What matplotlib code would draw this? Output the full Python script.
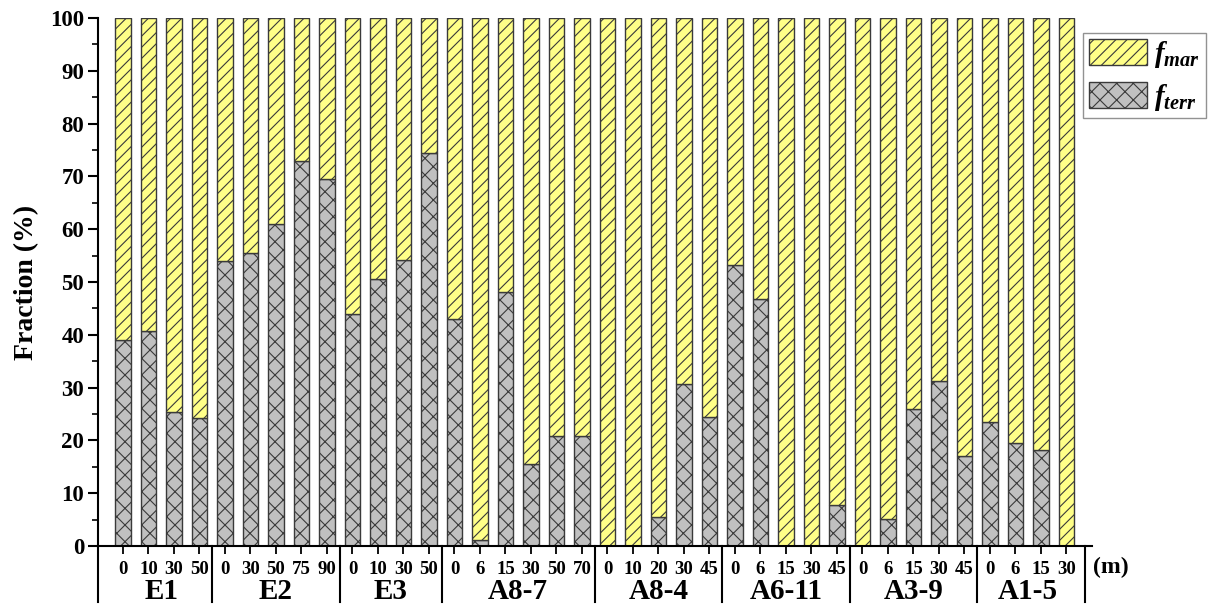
import matplotlib
matplotlib.use("Agg")
import matplotlib.pyplot as plt
from matplotlib.lines import Line2D
import matplotlib.transforms as mtransforms
import numpy as np

# ---------------- data ----------------
groups = ["E1", "E2", "E3", "A8-7", "A8-4", "A6-11", "A3-9", "A1-5"]
depths = [
    ["0", "10", "30", "50"],
    ["0", "30", "50", "75", "90"],
    ["0", "10", "30", "50"],
    ["0", "6", "15", "30", "50", "70"],
    ["0", "10", "20", "30", "45"],
    ["0", "6", "15", "30", "45"],
    ["0", "6", "15", "30", "45"],
    ["0", "6", "15", "30"],
]
f_terr = [
    [39.0, 40.7, 25.4, 24.2],
    [54.0, 55.5, 61.0, 73.0, 69.6],
    [44.0, 50.5, 54.2, 74.5],
    [43.0, 1.2, 48.2, 15.6, 20.8, 20.8],
    [0.0, 0.0, 5.5, 30.7, 24.5],
    [53.3, 46.8, 0.0, 0.0, 7.8],
    [0.0, 5.2, 26.0, 31.2, 17.0],
    [23.4, 19.5, 18.2, 0.0],
]
y_label = "Fraction (%)"
unit_label = "(m)"
legend_labels = [r"$f_{mar}$", r"$f_{terr}$"]

# ---------------- style ----------------
plt.rcParams["font.family"] = ["Liberation Serif", "DejaVu Serif"]
plt.rcParams["font.weight"] = "bold"
plt.rcParams["mathtext.fontset"] = "custom"
plt.rcParams["mathtext.it"] = "Liberation Serif:italic:bold"
plt.rcParams["mathtext.rm"] = "Liberation Serif:bold"
plt.rcParams["hatch.linewidth"] = 0.8

yellow = "#FFFF88"
gray = "#C0C0C0"
edge = "#3a3a3a"

terr = np.concatenate([np.array(v, dtype=float) for v in f_terr])
mar = 100.0 - terr
labels = [d for g in depths for d in g]
x = np.arange(len(terr))

fig = plt.figure(figsize=(12.13, 6.07), dpi=100)
ax = fig.add_axes([0.0808, 0.1005, 0.8194, 0.8698])

b_terr = ax.bar(x, terr, width=0.6, color=gray, edgecolor=edge, hatch="xx", linewidth=1.0)
b_mar = ax.bar(x, mar, bottom=terr, width=0.6, color=yellow, edgecolor=edge, hatch="///", linewidth=1.0)

xl, xr = -0.98, 38.0
ax.set_xlim(xl, xr)
ax.set_ylim(0, 100)

ax.spines["top"].set_visible(False)
ax.spines["right"].set_visible(False)
for s in ("left", "bottom"):
    ax.spines[s].set_linewidth(1.5)

ax.set_yticks(np.arange(0, 101, 10))
ax.set_yticks(np.arange(5, 100, 10), minor=True)
ax.tick_params(axis="y", which="major", direction="out", length=7, width=1.5, labelsize=16.5, pad=3)
ax.tick_params(axis="y", which="minor", direction="out", length=4, width=1.2)

ax.set_xticks(x)
ax.set_xticklabels(labels, fontsize=13.5, fontweight="bold")
ax.tick_params(axis="x", direction="out", length=6, width=1.3, pad=5)

ax.set_ylabel(y_label, fontsize=20, fontweight="bold", labelpad=8)

trans = mtransforms.blended_transform_factory(ax.transData, ax.transAxes)

# group separators and group labels
sep_bottom = -0.107
start = 0
bounds = [xl]
for g, d in zip(groups, depths):
    n = len(d)
    center = start + (n - 1) / 2.0
    ax.text(center, -0.087, g, transform=trans, ha="center", va="center",
            fontsize=21, fontweight="bold")
    start += n
    bounds.append(start - 0.5 if start < len(terr) else 37.74)
for bx in bounds:
    ax.add_line(Line2D([bx, bx], [0, sep_bottom], transform=trans, color="black",
                       linewidth=1.5, clip_on=False))

ax.text(xr + 0.05, -0.04, unit_label, transform=trans, ha="left", va="center",
        fontsize=17, fontweight="bold")

leg = fig.legend([b_mar, b_terr], legend_labels, loc="upper left",
                 bbox_to_anchor=(1083 / 1213, 1 - 33 / 607), fontsize=21,
                 frameon=True, fancybox=False, edgecolor="#777777",
                 handlelength=2.0, handleheight=1.0, handletextpad=0.25,
                 labelspacing=0.4, borderpad=0.2, borderaxespad=0.0)
leg.get_frame().set_linewidth(1.0)

fig.savefig("out.png", dpi=100)
